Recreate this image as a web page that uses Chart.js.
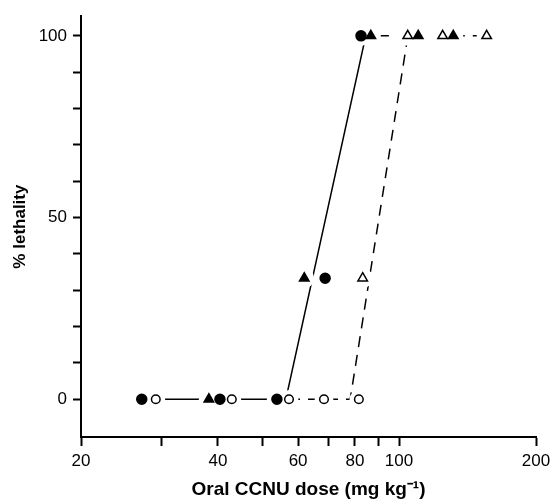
<!DOCTYPE html>
<html>
<head>
<meta charset="utf-8">
<script src="https://cdn.jsdelivr.net/npm/chart.js@4/dist/chart.umd.min.js"></script>
<style>
  html, body { margin: 0; padding: 0; background: #fff; }
  #wrap { width: 560px; height: 499px; }
</style>
</head>
<body>
<div id="wrap"><canvas id="lethalitychart"></canvas></div>
<script>
// doses (mg/kg) and % lethality
const filledCircleDose = [27.2, 40.4, 53.9, 68.8, 82.5];
const filledCircleLethality = [0, 0, 0, 33.3, 100];
const openCircleDose = [29.2, 42.9, 57.3, 68.4, 81.6];
const openCircleLethality = [0, 0, 0, 0, 0];
const filledTriangleDose = [38.2, 61.9, 86.7, 110.2, 131.6];
const filledTriangleLethality = [0, 33.3, 100, 100, 100];
const openTriangleDose = [83.2, 104.5, 124.7, 155.8];
const openTriangleLethality = [33.3, 100, 100, 100];

// fitted lines (solid: filled symbols, dashed: open symbols)
const solidLineDose = [27.2, 56.4, 84.5, 95];
const solidLineLethality = [0, 0, 100, 100];
const dashedLineDose = [57.3, 78.1, 104.6, 155.8];
const dashedLineLethality = [0, 0, 100, 100];

const xTickValues = [20, 30, 40, 50, 60, 70, 80, 90, 100, 200];
const xTickLabels = [20, 40, 60, 80, 100, 200];
const yTickValues = [0, 10, 20, 30, 40, 50, 60, 70, 80, 90, 100];
const yTickLabels = [0, 50, 100];

function pts(xs, ys) {
    return xs.map((x, i) => ({ x: x, y: ys[i] }));
}

function markers(xs, ys, style, radius, filled) {
    return {
        type: 'scatter',
        data: pts(xs, ys),
        pointStyle: style,
        pointRadius: radius,
        pointBackgroundColor: filled ? '#000' : '#fff',
        pointBorderColor: '#000',
        pointBorderWidth: 1.5,
        order: 1,
    };
}

// white patch under each marker so the lines stop short of it
function halo(xs, ys, radius) {
    return {
        type: 'scatter',
        data: pts(xs, ys),
        pointStyle: 'circle',
        pointRadius: radius + 5,
        pointBackgroundColor: '#fff',
        pointBorderColor: '#fff',
        pointBorderWidth: 0,
        order: 2,
    };
}

const tickFont = { family: "'Liberation Sans', Arial, sans-serif", size: 17 };
const xTitleFont = { family: "'Liberation Sans', Arial, sans-serif", size: 19, weight: 'bold' };
const yTitleFont = { family: "'Liberation Sans', Arial, sans-serif", size: 17, weight: 'bold' };

const ctx = document.getElementById('lethalitychart').getContext('2d');

const lethalitychart = new Chart(ctx, {
    type: 'scatter',
    data: {
        datasets: [
            {
                type: 'line',
                data: pts(solidLineDose, solidLineLethality),
                borderColor: '#000',
                borderWidth: 1.5,
                pointRadius: 0,
                fill: false,
                order: 3,
            },
            {
                type: 'line',
                data: pts(dashedLineDose, dashedLineLethality),
                borderColor: '#000',
                borderWidth: 1.5,
                borderDash: [11, 8],
                pointRadius: 0,
                fill: false,
                order: 3,
            },
            halo(filledCircleDose, filledCircleLethality, 5),
            halo(openCircleDose, openCircleLethality, 4.3),
            halo(filledTriangleDose, filledTriangleLethality, 5),
            halo(openTriangleDose, openTriangleLethality, 5),
            markers(filledCircleDose, filledCircleLethality, 'circle', 5, true),
            markers(openCircleDose, openCircleLethality, 'circle', 4.3, false),
            markers(filledTriangleDose, filledTriangleLethality, 'triangle', 5.5, true),
            markers(openTriangleDose, openTriangleLethality, 'triangle', 5.5, false),
        ]
    },
    options: {
        responsive: true,
        maintainAspectRatio: false,
        animation: false,
        layout: { padding: { top: 12, right: 24, left: 0, bottom: 0 } },
        plugins: {
            legend: { display: false },
            tooltip: { enabled: false },
        },
        scales: {
            x: {
                type: 'logarithmic',
                min: 20,
                max: 200,
                afterBuildTicks: function (scale) {
                    scale.ticks = xTickValues.map(v => ({ value: v }));
                },
                afterFit: function (scale) {
                    scale.height = 62;
                },
                ticks: {
                    autoSkip: false,
                    maxRotation: 0,
                    padding: 5,
                    color: '#000',
                    font: tickFont,
                    callback: function (value) {
                        return xTickLabels.includes(value) ? String(value) : '';
                    },
                },
                grid: {
                    drawOnChartArea: false,
                    drawTicks: true,
                    tickLength: 9,
                    tickWidth: 2,
                    tickColor: '#000',
                },
                border: { display: true, color: '#000', width: 2 },
                title: {
                    display: true,
                    text: 'Oral CCNU dose (mg kg\u207B\u00B9)',
                    color: '#000',
                    font: xTitleFont,
                    padding: { top: 0, bottom: -2 },
                },
            },
            y: {
                min: -10.4,
                max: 105.4,
                afterBuildTicks: function (scale) {
                    scale.ticks = yTickValues.map(v => ({ value: v }));
                },
                afterFit: function (scale) {
                    scale.width = 81;
                },
                ticks: {
                    autoSkip: false,
                    padding: 6,
                    color: '#000',
                    font: tickFont,
                    callback: function (value) {
                        return yTickLabels.includes(value) ? String(value) : '';
                    },
                },
                grid: {
                    drawOnChartArea: false,
                    drawTicks: true,
                    tickLength: 8,
                    tickWidth: 2,
                    tickColor: '#000',
                },
                border: { display: true, color: '#000', width: 2 },
                title: {
                    display: true,
                    text: '% lethality',
                    color: '#000',
                    font: yTitleFont,
                    padding: { top: 10, bottom: 0 },
                },
            },
        },
    },
});
</script>
</body>
</html>
